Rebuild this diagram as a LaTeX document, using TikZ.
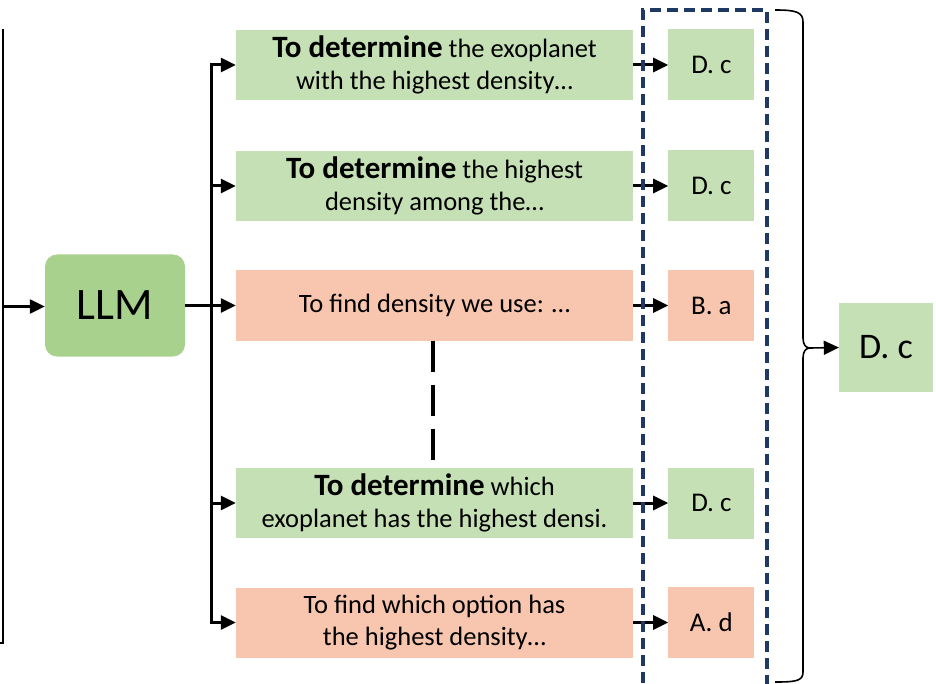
\documentclass[tikz,border=0pt]{standalone}
\usepackage{fontspec}
\setmainfont{Carlito}
\usepackage{tikz}
\usetikzlibrary{arrows.meta,positioning,calc}

\definecolor{goodgreen}{HTML}{C5E0B4}
\definecolor{badpeach}{HTML}{F8C6AE}
\definecolor{llmgreen}{HTML}{A9D18E}
\definecolor{votenavy}{HTML}{203864}

\newcommand{\detbold}{{\fontsize{31}{32}\selectfont\bfseries To determine}}

\tikzset{
	reason/.style={minimum width=397pt, minimum height=70pt, inner sep=0pt, align=center,
		font=\fontsize{26.5}{32}\selectfont},
	answer/.style={minimum width=86pt, minimum height=71pt, inner sep=0pt,
		font=\fontsize{27}{30}\selectfont},
	good/.style={fill=goodgreen},
	bad/.style={fill=badpeach},
	conn/.style={line width=3pt, -{Triangle[length=15pt,width=14pt]}},
}

\begin{document}
\begin{tikzpicture}[x=1pt,y=-1pt]
	\useasboundingbox (0,0) rectangle (936,684);

	% model
	\node[fill=llmgreen, rounded corners=12pt, minimum width=140pt, minimum height=102pt,
		inner sep=0pt, font=\fontsize{45}{45}\selectfont] (llm) at (115,305.5) {LLM};

	% reasoning paths
	\node[reason, good] (path_a) at (434.5,65) {\detbold{} the exoplanet\\with the highest density…};
	\node[reason, good] (path_b) at (434.5,186) {\detbold{} the highest\\density among the…};
	\node[reason, bad] (path_c) at (434.5,305.5) {To find density we use: …};
	\node[reason, good] (path_d) at (434.5,503) {\detbold{} which\\exoplanet has the highest densi.};
	\node[reason, bad] (path_e) at (434.5,622.5) {To find which option has\\the highest density…};

	% answers
	\node[answer, good, right=35pt of path_a] (ans_a) {D. c};
	\node[answer, good, right=35pt of path_b] (ans_b) {D. c};
	\node[answer, bad, right=35pt of path_c] (ans_c) {B. a};
	\node[answer, good, right=35pt of path_d] (ans_d) {D. c};
	\node[answer, bad, right=35pt of path_e] (ans_e) {A. d};

	\node[good, minimum width=94pt, minimum height=89pt, inner sep=0pt,
		font=\fontsize{36}{36}\selectfont] (final) at (886,347.5) {D. c};

	% input bracket
	\coordinate (in_top) at (3,29);
	\coordinate (in_bot) at (3,643);
	\coordinate (in_src) at (4,306.5);
	\draw[line width=2.2pt] (0,643) -- (in_bot) -- (in_top);
	\draw[conn, line width=2.4pt] (in_src) -- (in_src -| llm.west);

	% bus
	\coordinate (bus) at (211.5,305.5);
	\draw[line width=3.2pt] (llm.east) -- (bus);
	\draw[line width=3.2pt, line cap=rect] (bus |- path_a.west) -- (bus |- path_e.west);
	\draw[conn] (bus |- path_a.west) -- (path_a.west);
	\draw[conn] (bus |- path_b.west) -- (path_b.west);
	\draw[conn] (bus |- path_c.west) -- (path_c.west);
	\draw[conn] (bus |- path_d.west) -- (path_d.west);
	\draw[conn] (bus |- path_e.west) -- (path_e.west);

	\draw[conn] (path_a) -- (ans_a);
	\draw[conn] (path_b) -- (ans_b);
	\draw[conn] (path_c) -- (ans_c);
	\draw[conn] (path_d) -- (ans_d);
	\draw[conn] (path_e) -- (ans_e);

	% more paths
	\draw[line width=4pt, dash pattern=on 31pt off 13pt, shorten >=7pt]
		(path_c.south -| 432.5,0) -- (path_d.north -| 432.5,0);

	% voting box
	\draw[votenavy, line width=3.3pt, dash pattern=on 11pt off 6pt]
		(643,700) -- (643,10) -- (767,10) -- (767,700);

	% brace
	\coordinate (brace_tip) at (810,348);
	\draw[line width=1.6pt] (775,10) .. controls (796,10) and (803,12) .. (803,22)
		-- (803,338) .. controls (803,345) and (806,348) .. (brace_tip)
		.. controls (806,348) and (803,351) .. (803,358)
		-- (803,672) .. controls (803,681) and (796,682) .. (775,682);
	\draw[conn, line width=1.6pt] (brace_tip) -- (final.west);
\end{tikzpicture}
\end{document}
